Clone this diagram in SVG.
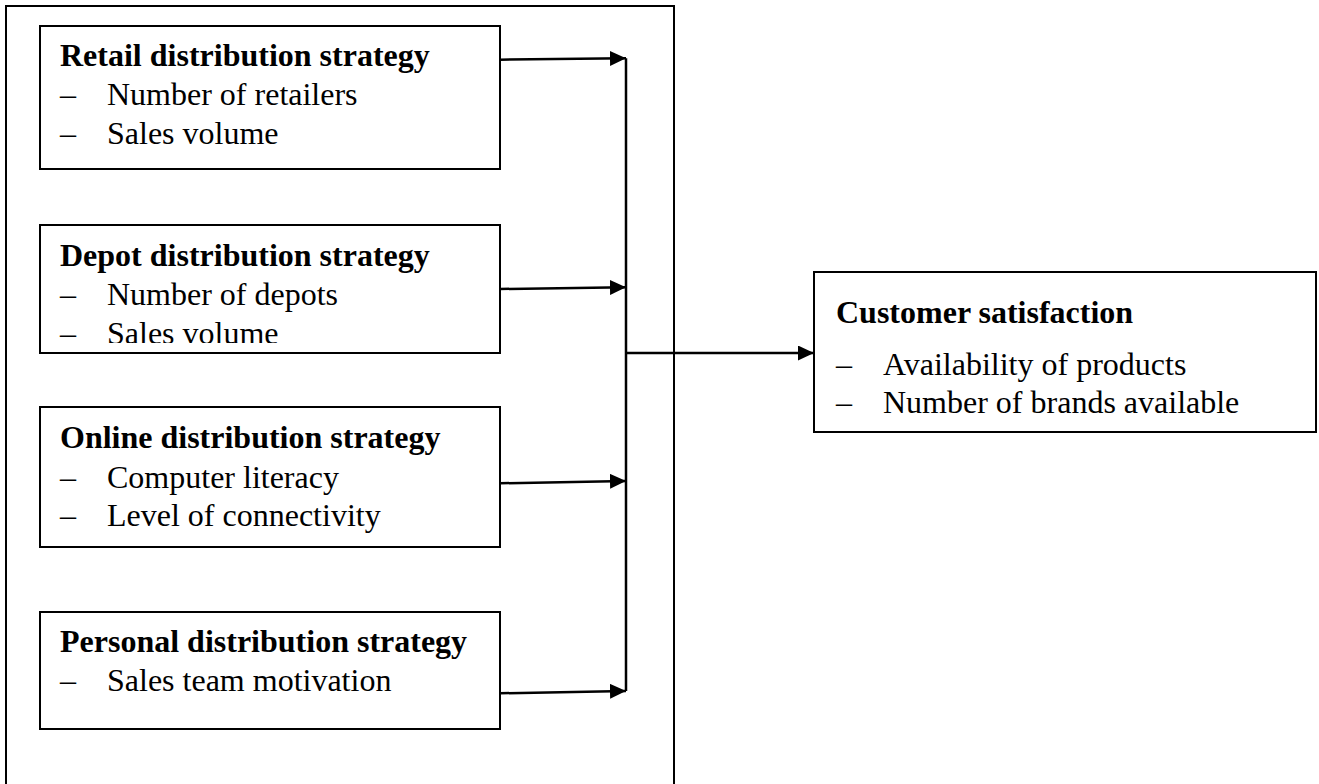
<svg xmlns="http://www.w3.org/2000/svg" width="1319" height="784" viewBox="0 0 1319 784">
<style>
.box{fill:#fff;stroke:#000;stroke-width:2}
.t{font-family:"Liberation Serif","Times New Roman",serif;font-size:32px;fill:#000}
.b{font-weight:bold}
.c{stroke:#000;stroke-width:2.5;fill:none}
</style>
<defs>
<marker id="ah" markerWidth="16" markerHeight="15" refX="16" refY="7.5" orient="auto" markerUnits="userSpaceOnUse">
<path d="M0,0 L16,7.5 L0,15 Z" fill="#000"/>
</marker>
<clipPath id="depotClip"><rect x="40" y="226" width="459" height="117"/></clipPath>
</defs>
<rect width="1319" height="784" fill="#fff"/>
<g id="frame">
<path d="M6,790 L6,6 L674,6 L674,790" fill="none" stroke="#000" stroke-width="2"/>
</g>
<g id="retail">
<rect class="box" x="40" y="26" width="460" height="143"/>
<text class="t b" x="60" y="66">Retail distribution strategy</text>
<text class="t" x="60" y="105">–</text><text class="t" x="107" y="105">Number of retailers</text>
<text class="t" x="60" y="144">–</text><text class="t" x="107" y="144">Sales volume</text>
</g>
<g id="depot">
<rect class="box" x="40" y="225" width="460" height="128"/>
<text class="t b" x="60" y="266">Depot distribution strategy</text>
<text class="t" x="60" y="305">–</text><text class="t" x="107" y="305">Number of depots</text>
<g clip-path="url(#depotClip)">
<text class="t" x="60" y="344">–</text><text class="t" x="107" y="344">Sales volume</text>
</g>
</g>
<g id="online">
<rect class="box" x="40" y="407" width="460" height="140"/>
<text class="t b" x="60" y="448">Online distribution strategy</text>
<text class="t" x="60" y="488">–</text><text class="t" x="107" y="488">Computer literacy</text>
<text class="t" x="60" y="526">–</text><text class="t" x="107" y="526">Level of connectivity</text>
</g>
<g id="personal">
<rect class="box" x="40" y="612" width="460" height="117"/>
<text class="t b" x="60" y="652">Personal distribution strategy</text>
<text class="t" x="60" y="691">–</text><text class="t" x="107" y="691">Sales team motivation</text>
</g>
<g id="customer">
<rect class="box" x="814" y="272" width="502" height="160"/>
<text class="t b" x="836" y="323">Customer satisfaction</text>
<text class="t" x="836" y="375">–</text><text class="t" x="883" y="375">Availability of products</text>
<text class="t" x="836" y="413">–</text><text class="t" x="883" y="413">Number of brands available</text>
</g>
<g id="connectors">
<line class="c" x1="500" y1="59.7" x2="626" y2="58.3" marker-end="url(#ah)"/>
<line class="c" x1="500" y1="289" x2="626" y2="287.3" marker-end="url(#ah)"/>
<line class="c" x1="500" y1="483.3" x2="626" y2="481" marker-end="url(#ah)"/>
<line class="c" x1="500" y1="693.3" x2="626" y2="691" marker-end="url(#ah)"/>
<line class="c" x1="626" y1="58.3" x2="626" y2="691"/>
<line class="c" x1="626" y1="353" x2="814" y2="353" marker-end="url(#ah)"/>
</g>
</svg>
